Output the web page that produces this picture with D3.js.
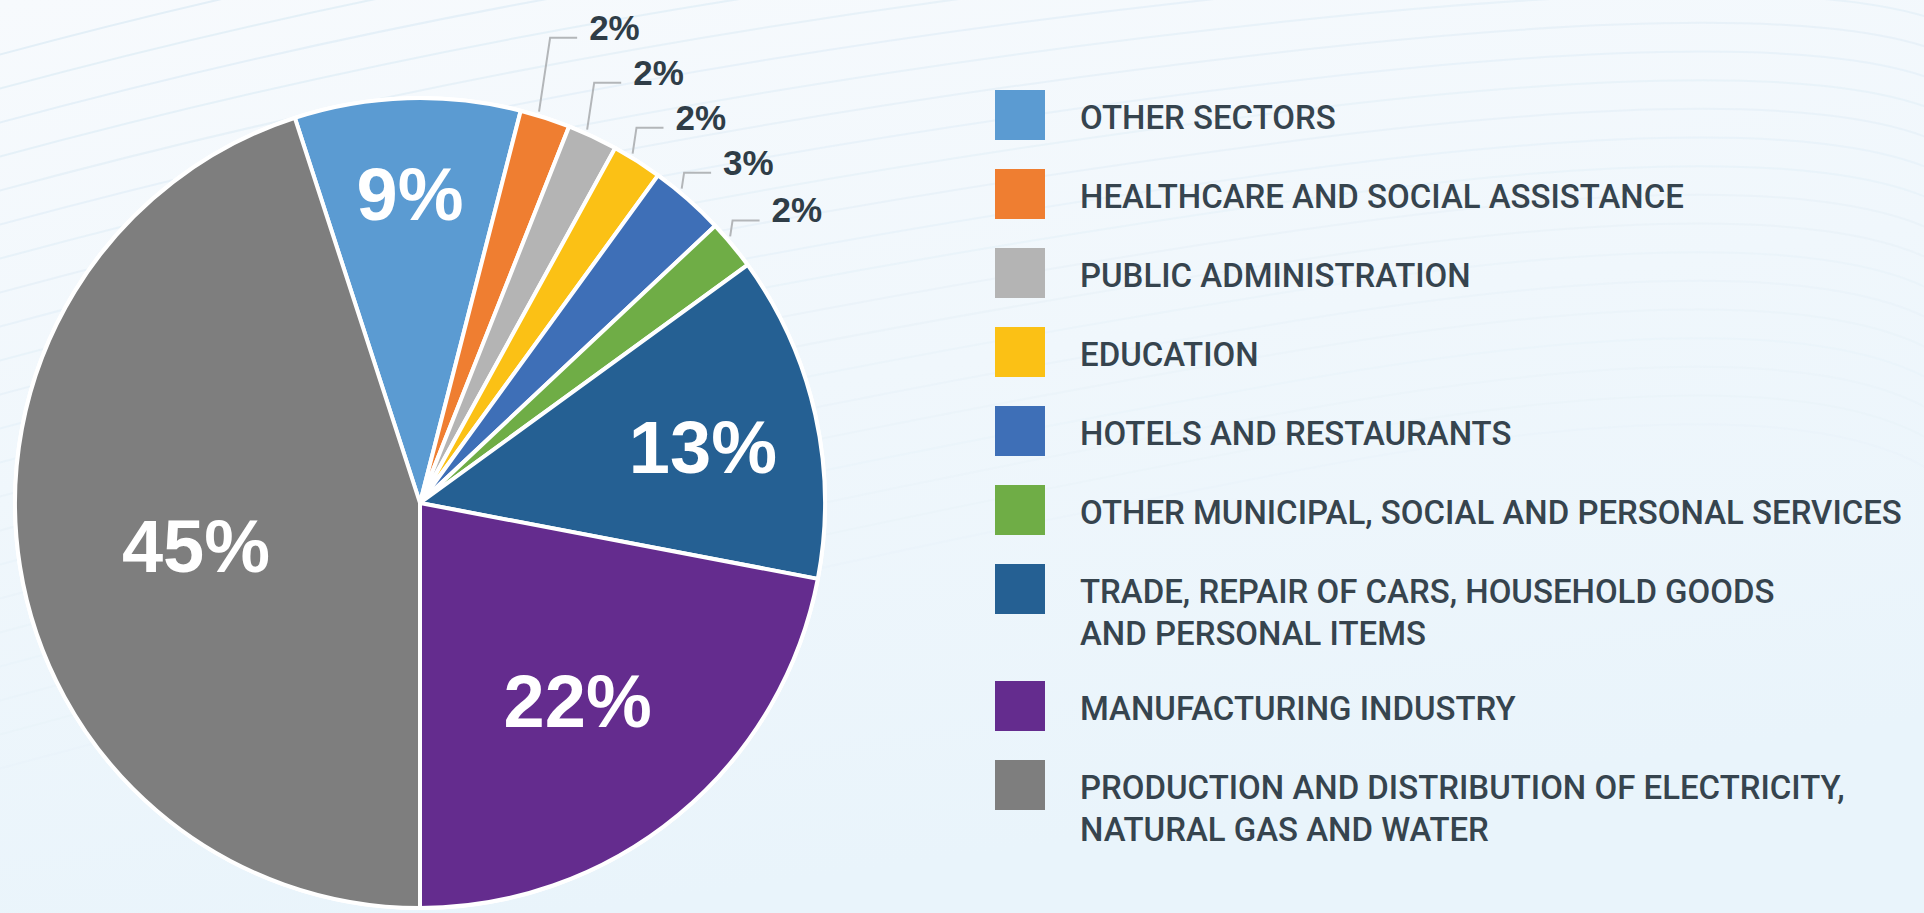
<!DOCTYPE html>
<html>
<head>
<meta charset="utf-8">
<script src="https://cdn.jsdelivr.net/npm/d3@7"></script>
<style>
body { margin: 0; overflow: hidden; }
</style>
</head>
<body>
<div id="chart"></div>
<script>
const sectors = [
	"OTHER SECTORS",
	"HEALTHCARE AND SOCIAL ASSISTANCE",
	"PUBLIC ADMINISTRATION",
	"EDUCATION",
	"HOTELS AND RESTAURANTS",
	"OTHER MUNICIPAL, SOCIAL AND PERSONAL SERVICES",
	"TRADE, REPAIR OF CARS, HOUSEHOLD GOODS\nAND PERSONAL ITEMS",
	"MANUFACTURING INDUSTRY",
	"PRODUCTION AND DISTRIBUTION OF ELECTRICITY,\nNATURAL GAS AND WATER"
];
const shares = [9, 2, 2, 2, 3, 2, 13, 22, 45];
const colors = ["#5b9bd2", "#ef7e31", "#b4b4b4", "#fbc115", "#3e6fb7", "#6fad46", "#256093", "#642c8e", "#7e7e7e"];

const width = 1924, height = 913;
const cx = 420, cy = 503, radius = 405;

const svg = d3.select("#chart")
	.append("svg")
	.attr("width", width)
	.attr("height", height);

// background
const defs = svg.append("defs");
const grad = defs.append("linearGradient")
	.attr("id", "bg")
	.attr("x1", "0").attr("y1", "0").attr("x2", "0.3").attr("y2", "1");
grad.append("stop").attr("offset", "0%").attr("stop-color", "#f7fafd");
grad.append("stop").attr("offset", "100%").attr("stop-color", "#e9f4fb");
svg.append("rect").attr("width", width).attr("height", height).attr("fill", "url(#bg)");

// faint wave lines
const waves = svg.append("g").attr("fill", "none").attr("stroke", "#e3eff7").attr("stroke-width", 2);
d3.range(22).forEach(i => {
	const y0 = 60 + i * 34;
	waves.append("path")
		.attr("d", `M-20,${y0} Q600,${y0 - 170} 1300,${y0 - 220 - i * 4} T2000,${y0 - 180}`)
		.attr("opacity", 1 - i * 0.04);
});

const pie = d3.pie()
	.sort(null)
	.value(d => d)
	.startAngle(-Math.PI / 10)
	.endAngle(2 * Math.PI - Math.PI / 10);

const arcs = pie(shares);
const arc = d3.arc().innerRadius(0).outerRadius(radius);

const g = svg.append("g").attr("transform", `translate(${cx},${cy})`);

g.append("circle").attr("r", radius + 2).attr("fill", "#ffffff");

g.selectAll("path.slice")
	.data(arcs)
	.join("path")
	.attr("class", "slice")
	.attr("d", arc)
	.attr("fill", (d, i) => colors[i])
	.attr("stroke", "#ffffff")
	.attr("stroke-width", 4)
	.attr("stroke-linejoin", "round");

// inner labels for the large slices
g.selectAll("text.inner")
	.data(arcs.filter(d => d.data >= 5))
	.join("text")
	.attr("class", "inner")
	.attr("transform", d => {
		const mid = (d.startAngle + d.endAngle) / 2;
		const half = (d.endAngle - d.startAngle) / 2;
		const dist = Math.max(0.56, 1 / (1 + Math.sin(Math.min(half, Math.PI / 2)))) * radius;
		return `translate(${Math.sin(mid) * dist},${-Math.cos(mid) * dist})`;
	})
	.attr("text-anchor", "middle")
	.attr("dy", "0.45em")
	.attr("fill", "#ffffff")
	.style("font-family", "'Liberation Sans', Arial, sans-serif")
	.style("font-weight", "bold")
	.style("font-size", "74px")
	.text(d => d.data + "%");

// outer labels with leader lines for the small slices
const small = arcs.filter(d => d.data < 5);
let prevY = Infinity;
const leaders = [];
for (let i = small.length - 1; i >= 0; i--) {
	const d = small[i];
	const a = d.startAngle + 0.35 * (d.endAngle - d.startAngle);
	const sx = Math.sin(a) * (radius + 4), sy = -Math.cos(a) * (radius + 4);
	const ey = Math.min(sy - 16, prevY - 45);
	const ex = sx + 0.15 * (sy - ey);
	prevY = ey;
	leaders.push({d: d, sx: sx, sy: sy, ex: ex, ey: ey});
}

g.selectAll("path.leader")
	.data(leaders)
	.join("path")
	.attr("class", "leader")
	.attr("d", l => `M${l.sx},${l.sy}L${l.ex},${l.ey}L${l.ex + 27},${l.ey}`)
	.attr("fill", "none")
	.attr("stroke", "#b3b6b9")
	.attr("stroke-width", 2);

g.selectAll("text.outer")
	.data(leaders)
	.join("text")
	.attr("class", "outer")
	.attr("x", l => l.ex + 39)
	.attr("y", l => l.ey + 2)
	.attr("fill", "#2f3d47")
	.style("font-family", "'Liberation Sans', Arial, sans-serif")
	.style("font-weight", "bold")
	.style("font-size", "35px")
	.text(l => l.d.data + "%");

// legend
const legend = svg.append("g");
let rowTop = 90;
const rows = sectors.map((s, i) => {
	const lines = s.split("\n");
	const r = {top: rowTop, lines: lines, color: colors[i]};
	rowTop += 79 + (lines.length - 1) * 38;
	return r;
});

legend.selectAll("rect")
	.data(rows)
	.join("rect")
	.attr("x", 995)
	.attr("y", r => r.top)
	.attr("width", 50)
	.attr("height", 50)
	.attr("fill", r => r.color);

const legendText = legend.append("g");
const labels = legendText.selectAll("text")
	.data(rows)
	.join("text")
	.attr("fill", "#36444e")
	.style("font-family", "Roboto, 'Liberation Sans', sans-serif")
	.style("font-weight", "500")
	.style("font-size", "34px");

labels.selectAll("tspan")
	.data(r => r.lines.map((t, j) => ({t: t, y: r.top + 39 + j * 42})))
	.join("tspan")
	.attr("x", 0)
	.attr("y", t => t.y)
	.text(t => t.t);

// squeeze the legend text to the condensed width of the original
let maxW = 0;
legendText.selectAll("tspan").each(function() {
	maxW = Math.max(maxW, this.getComputedTextLength());
});
const k = 822 / maxW;
legendText.attr("transform", `translate(1080,0) scale(${k},1)`);
</script>
</body>
</html>
